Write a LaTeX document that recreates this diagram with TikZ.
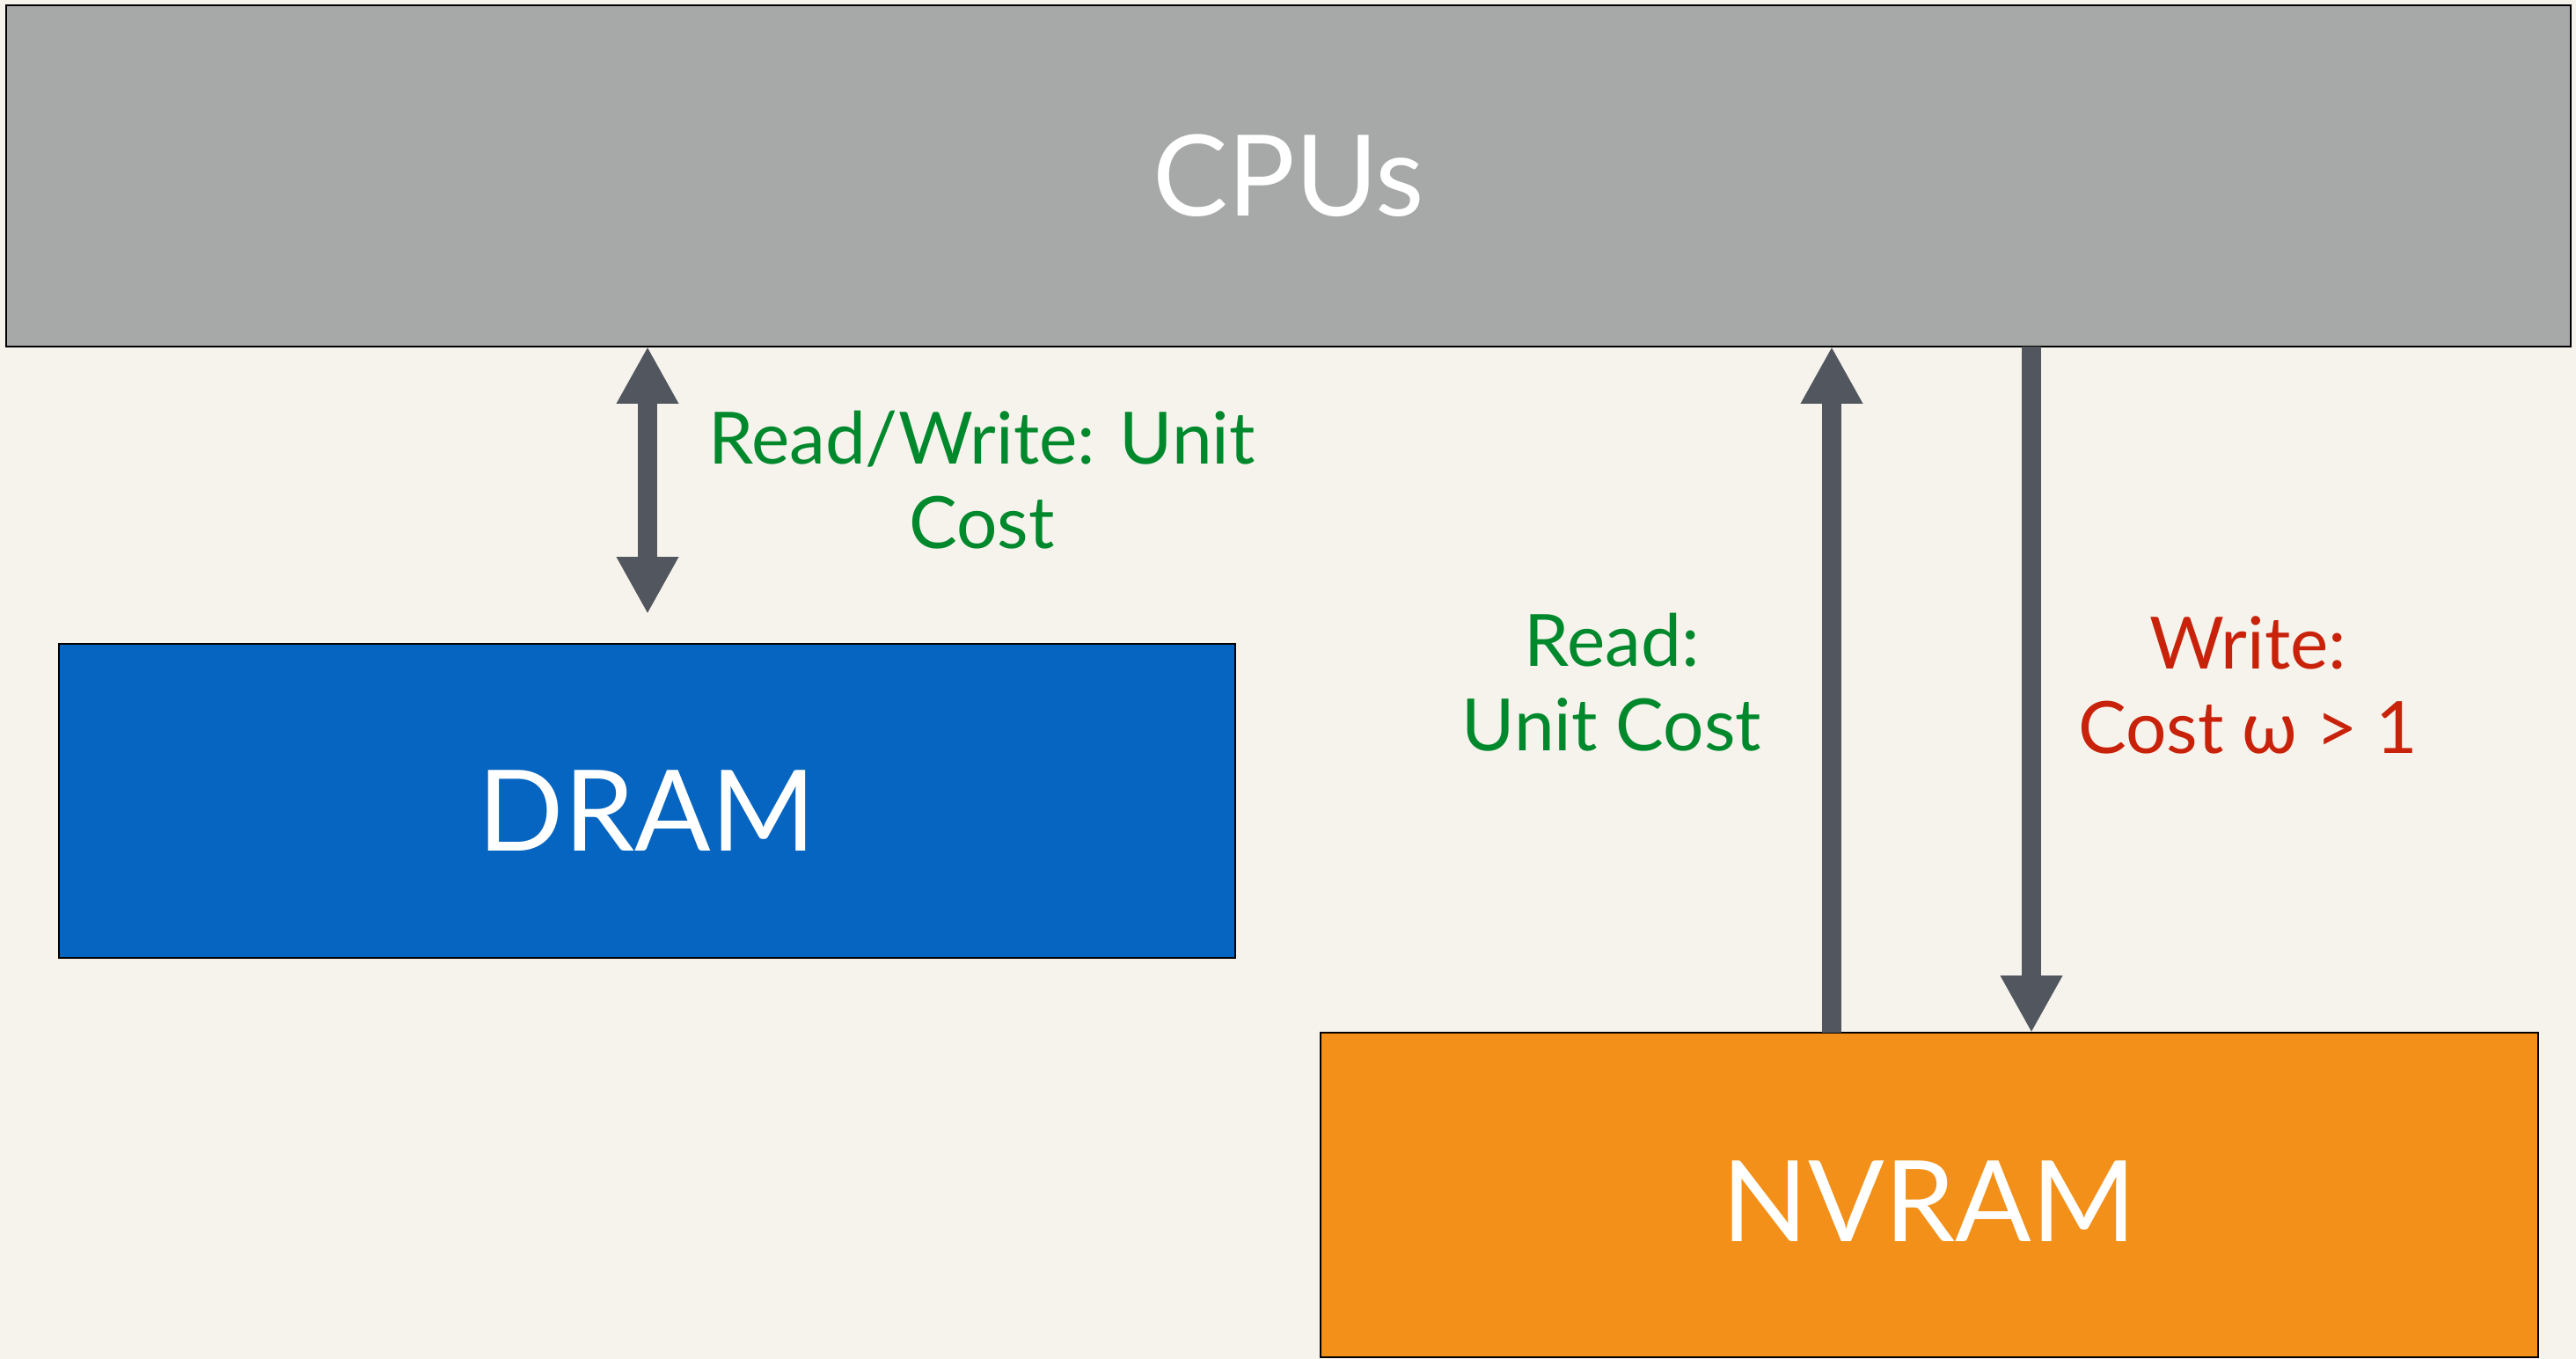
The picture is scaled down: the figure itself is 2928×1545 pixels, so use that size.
\documentclass[tikz,border=0pt]{standalone}
\usepackage{fontspec}
\setmainfont{Lato}
\usetikzlibrary{arrows.meta}
\definecolor{bgcol}{HTML}{F6F3EC}
\definecolor{cpucol}{HTML}{A6A9A8}
\definecolor{dramcol}{HTML}{0565C0}
\definecolor{nvcol}{HTML}{F29019}
\definecolor{arrcol}{HTML}{52575F}
\definecolor{okcol}{HTML}{00882C}
\definecolor{costcol}{HTML}{C9220A}
\begin{document}
\begin{tikzpicture}[x=0.5pt,y=-0.5pt,
  unit/.style={draw=black, line width=1.3pt, inner sep=0pt, outer sep=0pt,
    text=white, font=\fontsize{64}{70}\selectfont},
  lbl/.style={inner sep=0pt, align=center, font=\fontsize{41}{48}\selectfont},
  tipshape/.style={Triangle[length=32.5pt,width=33pt]},
  link/.style={draw=arrcol, line width=11pt},
]
\fill[bgcol] (0,0) rectangle (2928,1545);
\useasboundingbox (0,0) rectangle (2928,1545);

% memory hierarchy blocks
\node[unit, fill=cpucol, minimum width=1457.5pt, minimum height=194pt] (cpu) at (1464.5,200) {CPUs};
\node[unit, fill=dramcol, minimum width=668.5pt, minimum height=178.5pt, text height=56.5pt] (dram) at (735.5,910.5) {DRAM};
\node[unit, fill=nvcol, minimum width=692pt, minimum height=184.5pt, text height=52.5pt] (nvram) at (2193,1358.5) {NVRAM};

% access paths
\coordinate (dx) at (736,0);
\coordinate (dend) at (736,698);
\coordinate (ux) at (2082,0);
\coordinate (wx) at (2309,0);
\draw[link, {Triangle[length=32.5pt,width=33pt]}-{Triangle[length=32.5pt,width=33pt]}] (cpu.south -| dx) -- (dend);
\draw[link, -{Triangle[length=32.5pt,width=33pt]}] (nvram.north -| ux) -- (cpu.south -| ux);
\draw[link, -{Triangle[length=32.5pt,width=33pt]}] (cpu.south -| wx) -- (nvram.north -| wx);

% cost labels
\node[lbl, text=okcol] (rwcost) at (1116,546) {Read/Write: Unit\\Cost};
\node[lbl, text=okcol] (rdcost) at (1832,776) {Read:\\Unit Cost};
\node[lbl, text=costcol] (wrcost) at (2555,779) {Write:\\Cost ω > 1};
\end{tikzpicture}
\end{document}
